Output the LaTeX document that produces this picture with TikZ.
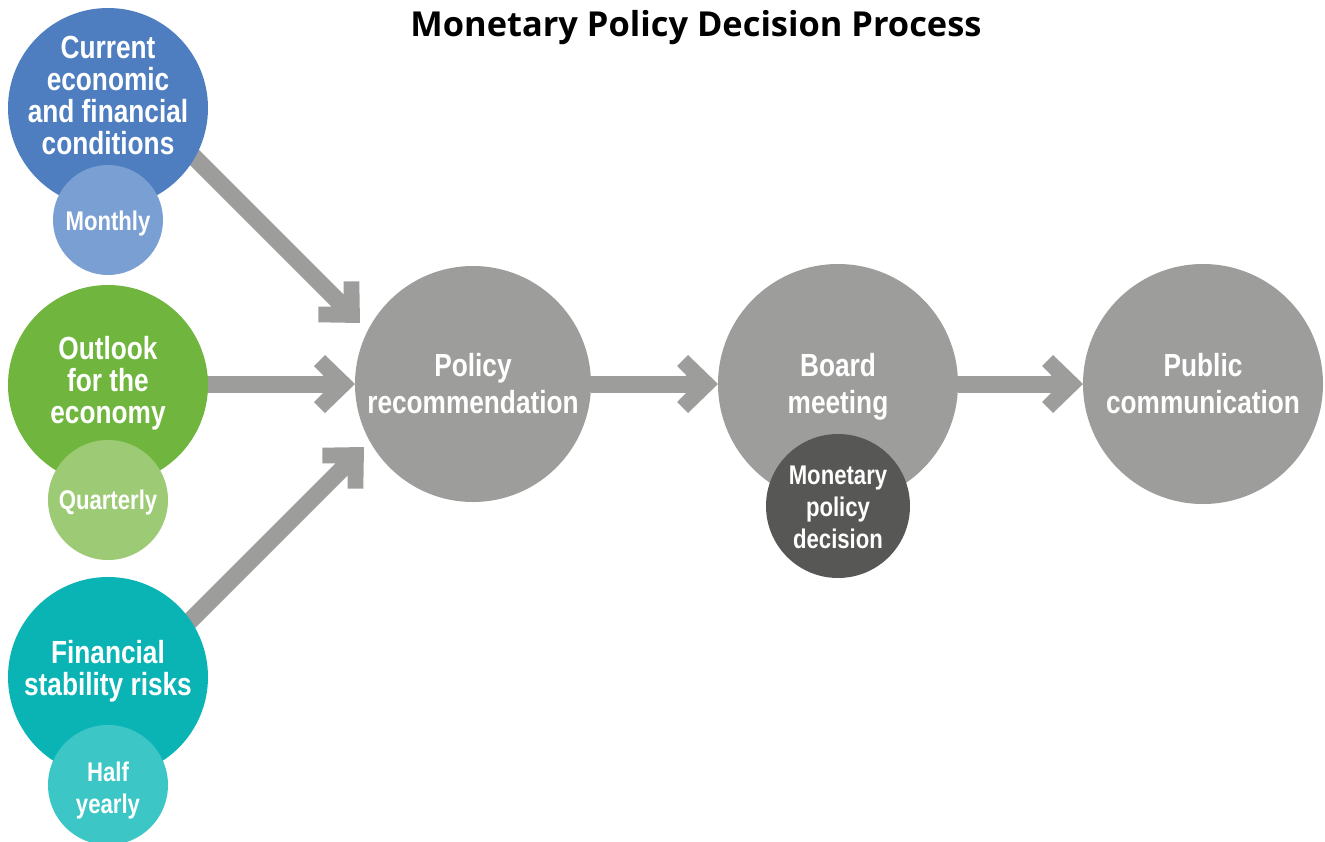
\documentclass[tikz,border=0pt]{standalone}
\usepackage{fontspec}
\setmainfont{Liberation Sans}
\newfontfamily\nf{Liberation Sans}[FakeStretch=0.82]
\newfontfamily\tf{Open Sans}
\usetikzlibrary{decorations.markings}
\definecolor{cblue}{HTML}{4E7EC0}
\definecolor{cblueL}{HTML}{7A9FD3}
\definecolor{cgreen}{HTML}{70B63E}
\definecolor{cgreenL}{HTML}{9DCB75}
\definecolor{cteal}{HTML}{0AB4B4}
\definecolor{ctealL}{HTML}{3CC6C6}
\definecolor{cgray}{HTML}{9D9D9C}
\definecolor{cdark}{HTML}{575756}
\definecolor{agray}{HTML}{9D9D9C}
\begin{document}
\begin{tikzpicture}[x=1pt,y=-1pt,
  disc/.style={circle, draw=none, inner sep=0pt, outer sep=0pt, minimum size=#1},
  lbl/.style={text=white, align=center, inner sep=0pt, font=\nf\bfseries\fontsize{32}{32}\selectfont},
  plbl/.style={text=white, align=center, inner sep=0pt, font=\nf\bfseries\fontsize{32}{37}\selectfont},
  slbl/.style={text=white, align=center, inner sep=0pt, font=\nf\bfseries\fontsize{27}{32}\selectfont},
  shaft/.style={draw=agray, line width=17pt, shorten >=31pt},
  head/.style={decorate, decoration={markings, mark=at position 1 with {\fill[agray] (0,0) -- (-30,29) -- (-41,18) -- (-32,9) -- (-32,-9) -- (-41,-18) -- (-30,-29) -- cycle;}}},
]
\useasboundingbox (0,0) rectangle (1325,841);
\fill[white] (0,0) rectangle (1325,841);

% title
\node[font=\tf\bfseries\fontsize{34.4}{38}\selectfont, inner sep=0pt] (title) at (696,28) {Monetary Policy Decision Process};

% process circles (placed first so anchors exist)
\node[disc=236pt, fill=cgray] (pol) at (473,384) {};
\node[disc=240pt, fill=cgray] (brd) at (838,384) {};
\node[disc=240pt, fill=cgray] (pub) at (1203,384) {};

% arrow coordinates
\coordinate (a1s) at (180,143);
\coordinate (a1t) at (360,323);
\coordinate (a2s) at (190,384);
\coordinate (a3s) at (180,631);
\coordinate (a3t) at (364,447);

% arrows
\draw[shaft] (a1s) -- (a1t);
\path[head] (a1s) -- (a1t);
\draw[shaft] (a2s) -- (pol.west);
\path[head] (a2s) -- (pol.west);
\draw[shaft] (a3s) -- (a3t);
\path[head] (a3s) -- (a3t);
\draw[shaft] (pol.east) -- (brd.west);
\path[head] (pol.east) -- (brd.west);
\draw[shaft] (brd.east) -- (pub.west);
\path[head] (brd.east) -- (pub.west);

% input circles
\node[disc=200pt, fill=cblue] (cur) at (108,108) {};
\node[disc=110pt, fill=cblueL] (mon) at (108,220) {};
\node[disc=200pt, fill=cgreen] (out) at (108,385) {};
\node[disc=120pt, fill=cgreenL] (qtr) at (108,500) {};
\node[disc=200pt, fill=cteal] (fin) at (108,677) {};
\node[disc=120pt, fill=ctealL] (hlf) at (108,785) {};
\node[disc=144pt, fill=cdark] (dec) at (838,506) {};

% labels
\node[lbl] (curT) at (108,95) {Current\\economic\\and financial\\conditions};
\node[slbl] (monT) at (108,224) {Monthly};
\node[lbl] (outT) at (108,383) {Outlook\\for the\\economy};
\node[slbl] (qtrT) at (108,503) {Quarterly};
\node[lbl] (finT) at (108,671) {Financial\\stability risks};
\node[slbl] (hlfT) at (108,791) {Half\\yearly};
\node[plbl] (polT) at (473,384) {Policy\\recommendation};
\node[plbl] (brdT) at (838,387) {Board\\meeting};
\node[plbl] (pubT) at (1203,384) {Public\\communication};
\node[slbl] (decT) at (838,507) {Monetary\\policy\\decision};
\end{tikzpicture}
\end{document}
